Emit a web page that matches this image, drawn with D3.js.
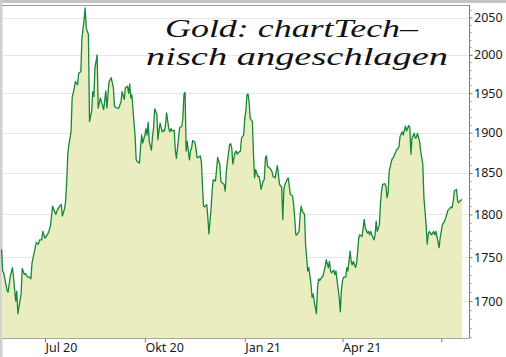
<!DOCTYPE html>
<html><head><meta charset="utf-8">
<script src="https://cdn.jsdelivr.net/npm/d3@7/dist/d3.min.js"></script>
<style>body{margin:0;background:#fff}svg{display:block}</style>
</head><body>
<svg id="c" width="506" height="357"></svg>
<script>
const dates = [
"2020-05-22","2020-05-23","2020-05-24","2020-05-27","2020-05-28","2020-05-30","2020-06-01","2020-06-02","2020-06-04","2020-06-05",
"2020-06-06","2020-06-09","2020-06-10","2020-06-12","2020-06-13","2020-06-15","2020-06-17","2020-06-18","2020-06-19","2020-06-21",
"2020-06-23","2020-06-25","2020-06-26","2020-06-28","2020-06-29","2020-07-01","2020-07-03","2020-07-04","2020-07-06","2020-07-08",
"2020-07-09","2020-07-11","2020-07-12","2020-07-14","2020-07-16","2020-07-17","2020-07-19","2020-07-20","2020-07-21","2020-07-22",
"2020-07-23","2020-07-25","2020-07-26","2020-07-28","2020-07-29","2020-07-31","2020-08-01","2020-08-03","2020-08-04","2020-08-06",
"2020-08-07","2020-08-08","2020-08-10","2020-08-11","2020-08-13","2020-08-14","2020-08-15","2020-08-16","2020-08-18","2020-08-19",
"2020-08-21","2020-08-22","2020-08-24","2020-08-26","2020-08-27","2020-08-29","2020-08-31","2020-09-02","2020-09-03","2020-09-05",
"2020-09-07","2020-09-09","2020-09-10","2020-09-12","2020-09-13","2020-09-15","2020-09-16","2020-09-17","2020-09-18","2020-09-19",
"2020-09-21","2020-09-22","2020-09-23","2020-09-24","2020-09-26","2020-09-27","2020-09-28","2020-09-29","2020-10-01","2020-10-02",
"2020-10-03","2020-10-04","2020-10-05","2020-10-07","2020-10-08","2020-10-09","2020-10-10","2020-10-12","2020-10-13","2020-10-14",
"2020-10-15","2020-10-17","2020-10-18","2020-10-19","2020-10-20","2020-10-21","2020-10-23","2020-10-24","2020-10-25","2020-10-26",
"2020-10-28","2020-10-29","2020-10-30","2020-10-31","2020-11-01","2020-11-02","2020-11-04","2020-11-05","2020-11-06","2020-11-07",
"2020-11-08","2020-11-09","2020-11-11","2020-11-12","2020-11-13","2020-11-14","2020-11-16","2020-11-17","2020-11-18","2020-11-19",
"2020-11-21","2020-11-22","2020-11-23","2020-11-24","2020-11-25","2020-11-27","2020-11-28","2020-11-29","2020-12-01","2020-12-02",
"2020-12-03","2020-12-05","2020-12-06","2020-12-07","2020-12-09","2020-12-10","2020-12-11","2020-12-13","2020-12-14","2020-12-15",
"2020-12-16","2020-12-18","2020-12-19","2020-12-20","2020-12-21","2020-12-23","2020-12-24","2020-12-25","2020-12-26","2020-12-28",
"2020-12-29","2020-12-31","2021-01-01","2021-01-02","2021-01-03","2021-01-04","2021-01-05","2021-01-06","2021-01-08","2021-01-09",
"2021-01-10","2021-01-11","2021-01-13","2021-01-14","2021-01-15","2021-01-16","2021-01-18","2021-01-19","2021-01-20","2021-01-21",
"2021-01-22","2021-01-24","2021-01-25","2021-01-26","2021-01-27","2021-01-29","2021-01-30","2021-01-31","2021-02-01","2021-02-02",
"2021-02-04","2021-02-05","2021-02-06","2021-02-07","2021-02-09","2021-02-10","2021-02-11","2021-02-12","2021-02-14","2021-02-15",
"2021-02-16","2021-02-17","2021-02-18","2021-02-20","2021-02-21","2021-02-22","2021-02-23","2021-02-25","2021-02-26","2021-02-27",
"2021-02-28","2021-03-01","2021-03-03","2021-03-04","2021-03-05","2021-03-06","2021-03-08","2021-03-09","2021-03-10","2021-03-11",
"2021-03-13","2021-03-14","2021-03-15","2021-03-16","2021-03-17","2021-03-19","2021-03-20","2021-03-21","2021-03-22","2021-03-24",
"2021-03-25","2021-03-26","2021-03-27","2021-03-29","2021-03-30","2021-03-31","2021-04-01","2021-04-02","2021-04-04","2021-04-05",
"2021-04-06","2021-04-08","2021-04-09","2021-04-10","2021-04-11","2021-04-13","2021-04-14","2021-04-15","2021-04-16","2021-04-17",
"2021-04-19","2021-04-20","2021-04-21","2021-04-22","2021-04-24","2021-04-25","2021-04-26","2021-04-27","2021-04-28","2021-04-30",
"2021-05-01","2021-05-02","2021-05-03","2021-05-05","2021-05-06","2021-05-07","2021-05-08","2021-05-10","2021-05-11","2021-05-12",
"2021-05-13","2021-05-14","2021-05-16","2021-05-17","2021-05-18","2021-05-19","2021-05-21","2021-05-22","2021-05-23","2021-05-24",
"2021-05-26","2021-05-27","2021-05-28","2021-05-29","2021-05-30","2021-06-01","2021-06-02","2021-06-03","2021-06-04","2021-06-06",
"2021-06-07","2021-06-08","2021-06-09","2021-06-11","2021-06-12","2021-06-13","2021-06-14","2021-06-15","2021-06-17","2021-06-18",
"2021-06-19","2021-06-20","2021-06-21","2021-06-22","2021-06-24","2021-06-25","2021-06-26","2021-06-27","2021-06-29","2021-06-30",
"2021-07-01","2021-07-02","2021-07-04","2021-07-05","2021-07-06","2021-07-07","2021-07-08","2021-07-10","2021-07-11","2021-07-12",
"2021-07-13","2021-07-15","2021-07-16","2021-07-17","2021-07-18","2021-07-20"
];
const prices = [
1759,1734,1732,1712,1710,1728,1738,1727,1700,1711,
1686,1708,1737,1730,1731,1727,1727,1725,1743,1755,
1767,1765,1770,1770,1780,1772,1776,1778,1786,1810,
1806,1800,1804,1809,1812,1798,1807,1816,1840,1873,
1885,1901,1944,1957,1965,1961,1976,1978,2022,2047,
2063,2036,2027,1914,1927,1952,1946,1983,2000,1931,
1944,1939,1929,1953,1931,1965,1970,1957,1933,1931,
1931,1939,1952,1942,1957,1959,1950,1962,1944,1948,
1912,1895,1866,1864,1862,1881,1897,1887,1897,1905,
1897,1913,1889,1878,1895,1906,1930,1923,1891,1903,
1912,1901,1903,1902,1910,1925,1905,1901,1905,1902,
1903,1879,1868,1880,1893,1906,1908,1918,1949,1951,
1877,1889,1866,1877,1881,1890,1888,1881,1869,1869,
1871,1864,1836,1810,1809,1812,1796,1777,1808,1830,
1842,1840,1854,1869,1860,1840,1838,1836,1828,1852,
1864,1885,1886,1881,1861,1875,1877,1873,1875,1877,
1893,1897,1918,1927,1948,1949,1939,1918,1914,1873,
1844,1854,1846,1846,1840,1830,1840,1842,1869,1871,
1858,1856,1854,1852,1846,1844,1852,1859,1848,1836,
1833,1794,1830,1836,1842,1844,1834,1824,1822,1812,
1796,1776,1776,1780,1800,1810,1804,1800,1765,1749,
1734,1738,1719,1704,1708,1699,1686,1715,1725,1723,
1727,1728,1734,1738,1747,1738,1745,1734,1732,1735,
1730,1734,1723,1704,1688,1712,1723,1727,1727,1738,
1734,1757,1745,1741,1745,1738,1743,1757,1773,1776,
1774,1784,1794,1784,1778,1780,1776,1780,1776,1770,
1776,1792,1780,1788,1814,1828,1836,1837,1834,1820,
1826,1852,1864,1868,1869,1873,1879,1880,1882,1895,
1901,1897,1903,1908,1902,1909,1906,1873,1893,1899,
1893,1894,1899,1889,1877,1869,1860,1820,1788,1765,
1777,1780,1778,1776,1780,1776,1780,1774,1761,1773,
1780,1788,1792,1796,1800,1805,1806,1809,1808,1816,
1828,1830,1816,1814,1816,1818
];
const yTicks = [1700,1750,1800,1850,1900,1950,2000,2050];
const xTickDates = ["2020-07-01","2020-10-01","2021-01-01","2021-04-01","2021-07-01"];
const xTickLabels = ["Jul 20","Okt 20","Jan 21","Apr 21",""];
const titleLines = ["Gold: chartTech–","nisch angeschlagen"];

const parse = d3.timeParse("%Y-%m-%d");
const data = dates.map((d,i)=>({date:parse(d), value:prices[i]}));
const W=506, H=357;
const plot = {left:2, right:469, top:5, bottom:338};
const svg = d3.select("#c");

const x = d3.scaleTime().domain([parse("2020-07-01"), parse("2021-07-01")]).range([45, 441.3]);
const y = d3.scaleLog().domain([1659, 2067]).range([plot.bottom, plot.top]);

// outer frame bands
svg.append("rect").attr("x",0).attr("y",0).attr("width",W).attr("height",3).attr("fill","#c4c4c4");
svg.append("rect").attr("x",0).attr("y",0).attr("width",2.5).attr("height",H).attr("fill","#cfcfcf");

// gridlines
svg.append("g").selectAll("line").data(yTicks).join("line")
  .attr("x1",plot.left).attr("x2",plot.right)
  .attr("y1",d=>Math.round(y(d))+0.5).attr("y2",d=>Math.round(y(d))+0.5)
  .attr("stroke","#e6e6e6").attr("stroke-width",1.2);

// area + line
const area = d3.area().x(d=>x(d.date)).y0(plot.bottom).y1(d=>y(d.value));
svg.append("path").datum(data).attr("d",area).attr("fill","#e9edbf");
const line = d3.line().x(d=>x(d.date)).y(d=>y(d.value));
svg.append("path").datum(data).attr("d",line).attr("fill","none")
  .attr("stroke","#17873a").attr("stroke-width",1.3).attr("stroke-linejoin","round");

// frame lines
svg.append("line").attr("x1",plot.left).attr("x2",plot.right).attr("y1",plot.top+0.5).attr("y2",plot.top+0.5)
  .attr("stroke","#9a9a9a");
svg.append("line").attr("x1",plot.left).attr("x2",plot.right).attr("y1",plot.bottom+0.5).attr("y2",plot.bottom+0.5)
  .attr("stroke","#a8a8a8");

// right axis
const gy = svg.append("g").attr("transform",`translate(${plot.right+0.5},0)`)
  .call(d3.axisRight(y).tickValues(yTicks).tickFormat(d3.format("d")).tickSize(3).tickPadding(1.5));
gy.select(".domain").attr("stroke","#7d7d7d").attr("d",`M0,${plot.top}V${plot.bottom+0.5}`);
gy.selectAll(".tick line").attr("stroke","#7d7d7d");
gy.selectAll(".tick text").attr("fill","#1a1a1a").style("font-family","'Noto Sans', sans-serif").style("font-size","12.5px");
const minor = d3.range(1660, 2061, 10).filter(v=>!yTicks.includes(v));
gy.append("g").selectAll("line").data(minor).join("line")
  .attr("x1",0).attr("x2",2).attr("y1",d=>Math.round(y(d))+0.5).attr("y2",d=>Math.round(y(d))+0.5)
  .attr("stroke","#9a9a9a");

// bottom axis
const gx = svg.append("g").attr("transform",`translate(0,${plot.bottom+0.5})`)
  .call(d3.axisBottom(x).tickValues(xTickDates.map(parse)).tickFormat((d,i)=>xTickLabels[i]).tickSize(4));
gx.select(".domain").remove();
gx.selectAll(".tick line").attr("stroke","#7d7d7d");
gx.selectAll(".tick text").attr("text-anchor","start").attr("x",0).attr("y",13.5).attr("dy",null)
  .attr("fill","#1a1a1a").style("font-family","'Noto Sans', sans-serif").style("font-size","12.5px");

// title
const tpos = [{x:165, y:37, w:253},{x:146, y:65, w:302}];
svg.append("g").selectAll("text").data(titleLines).join("text")
  .attr("x",(d,i)=>tpos[i].x).attr("y",(d,i)=>tpos[i].y)
  .attr("textLength",(d,i)=>tpos[i].w).attr("lengthAdjust","spacingAndGlyphs")
  .style("font-family","'Liberation Serif', serif").style("font-style","italic")
  .style("font-size","25px").attr("fill","#111")
  .text(d=>d);
</script>
</body></html>
